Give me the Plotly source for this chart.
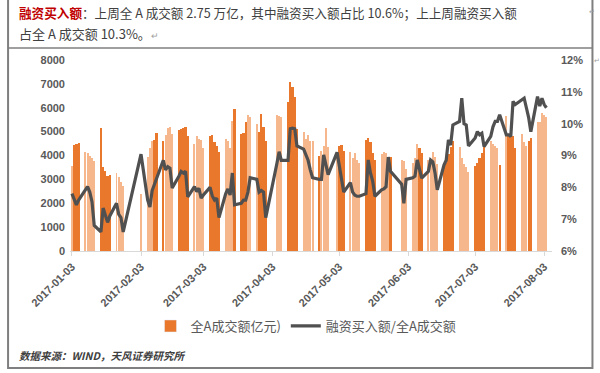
import plotly.graph_objects as go

# ---------------- data ----------------
dates = [
    "2017-01-03", "2017-01-04", "2017-01-05", "2017-01-06",
    "2017-01-09", "2017-01-10", "2017-01-11", "2017-01-12", "2017-01-13",
    "2017-01-16", "2017-01-17", "2017-01-18", "2017-01-19", "2017-01-20",
    "2017-01-23", "2017-01-24", "2017-01-25", "2017-01-26",
    "2017-02-03",
    "2017-02-06", "2017-02-07", "2017-02-08", "2017-02-09", "2017-02-10",
    "2017-02-13", "2017-02-14", "2017-02-15", "2017-02-16", "2017-02-17",
    "2017-02-20", "2017-02-21", "2017-02-22", "2017-02-23", "2017-02-24",
    "2017-02-27", "2017-02-28", "2017-03-01", "2017-03-02", "2017-03-03",
    "2017-03-06", "2017-03-07", "2017-03-08", "2017-03-09", "2017-03-10",
    "2017-03-13", "2017-03-14", "2017-03-15", "2017-03-16", "2017-03-17",
    "2017-03-20", "2017-03-21", "2017-03-22", "2017-03-23", "2017-03-24",
    "2017-03-27", "2017-03-28", "2017-03-29", "2017-03-30", "2017-03-31",
    "2017-04-05", "2017-04-06", "2017-04-07",
    "2017-04-10", "2017-04-11", "2017-04-12", "2017-04-13", "2017-04-14",
    "2017-04-17", "2017-04-18", "2017-04-19", "2017-04-20", "2017-04-21",
    "2017-04-24", "2017-04-25", "2017-04-26", "2017-04-27", "2017-04-28",
    "2017-05-02", "2017-05-03", "2017-05-04", "2017-05-05",
    "2017-05-08", "2017-05-09", "2017-05-10", "2017-05-11", "2017-05-12",
    "2017-05-15", "2017-05-16", "2017-05-17", "2017-05-18", "2017-05-19",
    "2017-05-22", "2017-05-23", "2017-05-24", "2017-05-25", "2017-05-26",
    "2017-05-31", "2017-06-01", "2017-06-02",
    "2017-06-05", "2017-06-06", "2017-06-07", "2017-06-08", "2017-06-09",
    "2017-06-12", "2017-06-13", "2017-06-14", "2017-06-15", "2017-06-16",
    "2017-06-19", "2017-06-20", "2017-06-21", "2017-06-22", "2017-06-23",
    "2017-06-26", "2017-06-27", "2017-06-28", "2017-06-29", "2017-06-30",
    "2017-07-03", "2017-07-04", "2017-07-05", "2017-07-06", "2017-07-07",
    "2017-07-10", "2017-07-11", "2017-07-12", "2017-07-13", "2017-07-14",
    "2017-07-17", "2017-07-18", "2017-07-19", "2017-07-20", "2017-07-21",
    "2017-07-24", "2017-07-25", "2017-07-26", "2017-07-27", "2017-07-28",
    "2017-07-31", "2017-08-01", "2017-08-02", "2017-08-03", "2017-08-04",
]

# 全A成交额（亿元）
turnover = [
    3550, 4450, 4480, 4520,
    4150, 4110, 4000, 3880, 3770,
    5160, 3500, 3350, 3150, 3200,
    3280, 3100, 2900, 2730,
    2400,
    3950, 4300, 4600, 4650, 4950,
    4600, 4850, 5150, 5200, 4900,
    5050, 5100, 5150, 5200, 4800,
    4500, 4800, 4700, 4650, 4300,
    4800, 4850, 4550, 4400, 4150,
    4700, 4600, 4300, 5450, 5950,
    4900, 4950, 5400, 5700, 5600,
    5300, 5000, 5750, 5200, 4600,
    5700, 5650, 5600,
    6250, 7080, 6850, 6450, 5100,
    5000, 4700, 4850, 4600, 4600,
    4000, 4200, 4400, 5150, 4350,
    4000, 4400, 4450, 4200,
    4150, 3900, 4100, 3800, 3700,
    4650, 4750, 4550, 4100, 3800,
    4050, 4150, 4100, 3900, 3950,
    3800, 3750, 3450,
    3700, 3900, 4500, 4300, 4100,
    3800, 3700, 4150, 3950, 3650,
    3600, 3700, 4050, 4350, 4600,
    4350, 3900, 3650, 3500, 3300,
    3550, 3700, 3900, 4100, 4500,
    4600, 4500, 4400, 4300, 3600,
    5650, 4800, 4950, 4800, 4300,
    4900, 4550, 4400, 4600, 4750,
    5400, 5400, 5800, 5700, 5600,
]

# 融资买入额/全A成交额（%）
ratio = [
    7.80, 7.60, 7.45, 7.60,
    7.95, 8.02, 7.85, 7.55, 6.80,
    6.60, 7.35, 7.10, 6.90, 7.10,
    7.50, 7.15, 7.05, 6.60,
    9.04,
    7.60, 7.38, 7.90, 8.10, 8.25,
    8.85, 8.55, 8.65, 8.60, 7.98,
    8.35, 8.50, 8.45, 8.50, 7.70,
    8.02, 7.87, 7.97, 7.66, 7.76,
    8.00, 7.73, 7.60, 7.66, 7.05,
    7.80, 7.95, 7.76, 8.45, 7.45,
    7.50, 7.60, 7.60, 7.85, 8.30,
    8.25, 7.85, 7.90, 7.85, 7.05,
    8.75, 9.12, 8.85,
    8.85, 9.84, 9.86, 9.84, 9.30,
    9.20, 9.00, 8.85, 8.55, 8.30,
    8.25, 8.25, 9.02, 8.70, 8.40,
    9.10, 8.70, 8.30, 7.85,
    8.15, 7.85, 7.75, 7.72, 7.72,
    7.80, 8.86, 8.45, 8.20, 7.72,
    7.92, 7.95, 8.02, 8.95, 8.50,
    8.10, 7.50, 8.25,
    8.30, 8.35, 8.86, 8.60, 8.29,
    8.50, 8.86, 8.80, 8.45, 7.92,
    8.70, 8.85, 9.49, 9.33, 9.96,
    10.07, 10.80, 10.00, 9.96, 9.30,
    9.55, 9.75, 9.65, 9.70, 9.28,
    9.60, 9.90, 10.07, 10.07, 10.28,
    9.65, 9.65, 9.60, 10.70, 10.60,
    10.75, 10.80, 10.50, 10.20, 9.75,
    10.85, 10.55, 10.80, 10.60, 10.50,
]

tick_dates = ["2017-01-03", "2017-02-03", "2017-03-03", "2017-04-03",
              "2017-05-03", "2017-06-03", "2017-07-03", "2017-08-03"]

bar_name = "全A成交额亿元)"
line_name = "融资买入额/全A成交额"

# ---------------- styling (rendering look of the original Excel bars) ----------------
DARK = "#E9782C"
LIGHT = "#F6B78C"
dark_days = {
    "2017-01-04", "2017-01-05", "2017-01-06",
    "2017-01-16", "2017-01-17", "2017-01-18", "2017-01-19", "2017-01-20",
    "2017-02-09", "2017-02-10", "2017-02-13",
    "2017-02-20", "2017-02-21", "2017-02-22", "2017-02-23", "2017-02-24",
    "2017-03-06", "2017-03-07", "2017-03-08", "2017-03-09", "2017-03-10",
    "2017-03-17", "2017-03-20", "2017-03-21", "2017-03-22",
    "2017-03-28", "2017-03-29", "2017-03-30", "2017-03-31",
    "2017-04-10", "2017-04-11", "2017-04-12", "2017-04-13", "2017-04-14",
    "2017-04-24", "2017-05-03", "2017-05-04", "2017-05-05",
    "2017-05-15", "2017-05-16", "2017-05-17", "2017-05-18", "2017-05-19",
    "2017-05-26", "2017-06-08", "2017-06-09",
    "2017-06-19", "2017-06-20", "2017-06-21", "2017-06-22", "2017-06-23",
    "2017-07-03", "2017-07-04", "2017-07-05", "2017-07-06", "2017-07-07",
    "2017-07-14", "2017-07-18", "2017-07-19", "2017-07-20", "2017-07-21",
    "2017-07-27", "2017-07-28",
}
DAY_MS = 86400000
bar_colors = [DARK if d in dark_days else LIGHT for d in dates]
bar_widths = [DAY_MS * 1.0 if d in dark_days else DAY_MS * 0.45 for d in dates]

# ---------------- layout geometry ----------------
W, H = 600, 373
L, R, T, B = 70, 47.5, 60, 122
PW, PH = W - L - R, H - T - B


def px(x):
    return (x - L) / PW


def py(y):
    return (T + PH - y) / PH


TXT = "#404040"
TICK = "#595959"
CJK = "Noto Sans CJK SC"
LAT = "Liberation Sans, Arial"

fig = go.Figure()
fig.add_trace(go.Bar(
    x=dates, y=turnover, name=bar_name, showlegend=False,
    marker=dict(color=bar_colors, line=dict(width=0)), width=bar_widths,
    yaxis="y",
))
fig.add_trace(go.Bar(  # legend swatch only
    x=[None], y=[None], name=bar_name, marker=dict(color=DARK), yaxis="y",
))
fig.add_trace(go.Scatter(
    x=dates, y=ratio, name=line_name, mode="lines",
    line=dict(color="#505050", width=3.2), yaxis="y2",
))

fig.update_layout(
    width=W, height=H,
    margin=dict(l=L, r=R, t=T, b=B, pad=0, autoexpand=False),
    paper_bgcolor="white", plot_bgcolor="white",
    bargap=0, barmode="overlay",
    showlegend=True,
    legend=dict(orientation="h", xref="container", yref="container",
                x=306 / W, xanchor="center", y=(H - 326) / H, yanchor="middle",
                font=dict(family=CJK, size=13, color=TICK), bgcolor="rgba(0,0,0,0)",
                itemwidth=30, traceorder="normal"),
    xaxis=dict(
        type="date", range=["2017-01-02 03:00", "2017-08-06 12:00"], automargin=False,
        tickvals=tick_dates, tickformat="%Y-%m-%d", tickangle=-45,
        tickfont=dict(family=LAT, size=11, color=TICK, weight="bold"),
        showgrid=False, zeroline=False, showline=True, linecolor="#D9D9D9", linewidth=1,
        ticks="outside", ticklen=4, tickcolor="#D9D9D9",
    ),
    yaxis=dict(
        range=[0, 8000], dtick=1000, showgrid=False, zeroline=False, showline=False,
        automargin=False,
        tickfont=dict(family=LAT, size=11, color=TICK, weight="bold"),
        ticklabelstandoff=4,
    ),
    yaxis2=dict(
        range=[6, 12], dtick=1, ticksuffix="%", overlaying="y", side="right",
        showgrid=False, zeroline=False, showline=False, automargin=False,
        tickfont=dict(family=LAT, size=11, color=TICK, weight="bold"),
        ticklabelstandoff=8,
    ),
)

# frame of the document table
border = "#7F7F7F"
fig.add_shape(type="rect", xref="paper", yref="paper",
              x0=px(8), x1=px(593), y0=py(368), y1=py(-6),
              line=dict(color=border, width=2), fillcolor="rgba(0,0,0,0)", layer="above")
fig.add_shape(type="line", xref="paper", yref="paper",
              x0=px(8), x1=px(593), y0=py(48), y1=py(48),
              line=dict(color=border, width=1.5), layer="above")

# header text
fig.add_annotation(
    xref="paper", yref="paper", x=px(17), y=py(13), xanchor="left", yanchor="middle",
    showarrow=False, align="left",
    text=("<b><span style='color:#C00000'>融资买入额</span></b>："
          "上周全 A 成交额 2.75 万亿，其中融资买入额占比 10.6%；上上周融资买入额"),
    font=dict(family=CJK, size=12.6, color=TXT),
)
fig.add_annotation(
    xref="paper", yref="paper", x=px(17), y=py(34), xanchor="left", yanchor="middle",
    showarrow=False, align="left",
    text="占全 A 成交额 10.3%。<span style='color:#A0A0A0;font-size:9px'>↵</span>",
    font=dict(family=CJK, size=13, color=TXT),
)
for (xx, yy) in [(588, 11), (593, 60)]:
    fig.add_annotation(
        xref="paper", yref="paper", x=px(xx), y=py(yy), xanchor="left", yanchor="middle",
        showarrow=False, text="↵", font=dict(family=CJK, size=7, color="#A0A0A0"),
    )

# source note
fig.add_annotation(
    xref="paper", yref="paper", x=px(17), y=py(355), xanchor="left", yanchor="middle",
    showarrow=False, text="<b><i>数据来源：WIND，天风证券研究所</i></b>",
    font=dict(family=CJK, size=10.5, color=TXT),
)

# the page's default 8px body margin would shift the figure; remove it
fig.write_html("out.html", config={"displayModeBar": False},
               post_script="document.body.style.margin='0';")
